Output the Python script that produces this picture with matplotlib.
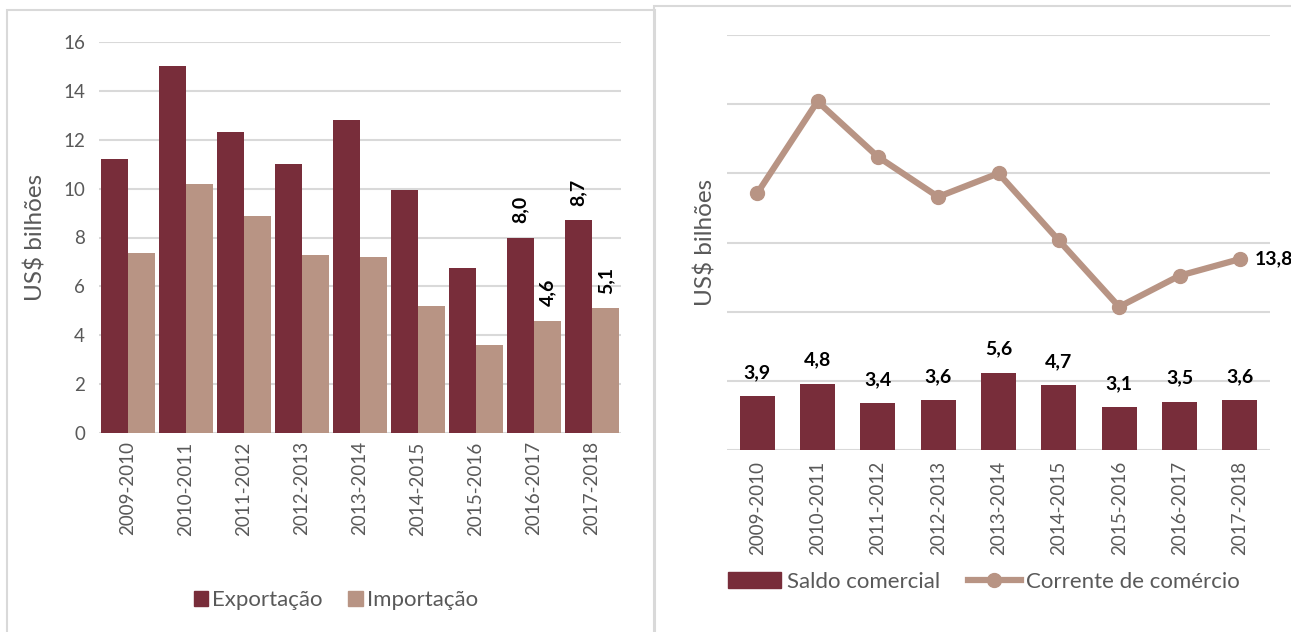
import matplotlib
matplotlib.use("Agg")
import matplotlib.pyplot as plt
import numpy as np
from matplotlib.patches import Rectangle
from matplotlib.lines import Line2D
from matplotlib.patches import Patch

plt.rcParams['font.family'] = ['Lato', 'DejaVu Sans']

categories = ["2009-2010", "2010-2011", "2011-2012", "2012-2013", "2013-2014",
              "2014-2015", "2015-2016", "2016-2017", "2017-2018"]
exportacao = [11.2, 15.0, 12.3, 11.0, 12.8, 9.95, 6.75, 8.0, 8.7]
importacao = [7.35, 10.2, 8.9, 7.3, 7.2, 5.2, 3.6, 4.6, 5.1]
saldo = [3.9, 4.8, 3.4, 3.6, 5.6, 4.7, 3.1, 3.5, 3.6]
corrente = [18.55, 25.2, 21.2, 18.3, 20.0, 15.15, 10.35, 12.6, 13.8]

C_EXP = "#782D3A"
C_IMP = "#B89484"
GRID = "#D9D9D9"
TXT = "#595959"

W, H = 1291, 632
fig = plt.figure(figsize=(W / 100, H / 100), dpi=100)

def ax_px(x0, y0, x1, y1):
    return fig.add_axes([x0 / W, 1 - y1 / H, (x1 - x0) / W, (y1 - y0) / H])

# panel borders
fig.patches.append(Rectangle((7 / W, -0.05), (655 - 7) / W, 1 - 10 / H + 0.05,
                             transform=fig.transFigure, fill=False, ec="#D9D9D9", lw=1.5))
fig.patches.append(Rectangle((654 / W, -0.05), 0.5, 1 - 6 / H + 0.05,
                             transform=fig.transFigure, fill=False, ec="#D9D9D9", lw=1.5))

def fmt(v):
    return f"{v:.1f}".replace(".", ",")

# ---------- Left chart ----------
ax1 = ax_px(99, 42, 621, 433)
x = np.arange(len(categories))
bw = 0.47
ax1.bar(x - bw / 2, exportacao, bw, color=C_EXP, zorder=3)
ax1.bar(x + bw / 2, importacao, bw, color=C_IMP, zorder=3)
ax1.set_xlim(-0.5, len(categories) - 0.5)
ax1.set_ylim(0, 16)
ax1.set_yticks(np.arange(0, 17, 2))
ax1.yaxis.grid(True, color=GRID, lw=1.5, zorder=0)
ax1.set_axisbelow(True)
for s in ax1.spines.values():
    s.set_visible(False)
ax1.tick_params(length=0, labelsize=13.5, colors=TXT, pad=10)
ax1.tick_params(axis='x', pad=6)
ax1.set_xticks(x)
ax1.set_xticklabels(categories, rotation=90)
ax1.set_ylabel("US$ bilhões", fontsize=17.5, color=TXT, labelpad=12)
for i in (7, 8):
    ax1.text(x[i] - bw / 2, exportacao[i] + 0.6, fmt(exportacao[i]),
             rotation=90, ha="center", va="bottom", fontsize=14, fontweight="bold", color="black")
    ax1.text(x[i] + bw / 2, importacao[i] + 0.6, fmt(importacao[i]),
             rotation=90, ha="center", va="bottom", fontsize=14, fontweight="bold", color="black")
fig.legend(handles=[Patch(color=C_EXP, label="Exportação"), Patch(color=C_IMP, label="Importação")],
           loc="center", bbox_to_anchor=(336 / W, 1 - 600 / H), ncol=2, frameon=False,
           fontsize=16, labelcolor=TXT, handlelength=0.65, handleheight=0.65,
           handletextpad=0.2, columnspacing=1.15)

# ---------- Right chart ----------
ax2 = ax_px(727, 35, 1270, 450)
x2 = np.arange(len(categories))
ax2.bar(x2, saldo, 0.58, color=C_EXP, zorder=3)
ax2.plot(x2, corrente, color=C_IMP, lw=4.5, marker="o", markersize=10, zorder=4,
         solid_capstyle="round")
ax2.set_xlim(-0.5, len(categories) - 0.5)
ax2.set_ylim(0, 30)
ax2.set_yticks(np.arange(0, 31, 5))
ax2.set_yticklabels([])
ax2.yaxis.grid(True, color=GRID, lw=1.5, zorder=0)
ax2.set_axisbelow(True)
for s in ax2.spines.values():
    s.set_visible(False)
ax2.tick_params(length=0, labelsize=13.5, colors=TXT)
ax2.tick_params(axis='x', pad=8)
ax2.set_xticks(x2)
ax2.set_xticklabels(categories, rotation=90)
ax2.set_ylabel("US$ bilhões", fontsize=17.5, color=TXT, labelpad=4)
for i, v in enumerate(saldo):
    ax2.text(x2[i], v + 1.1, fmt(v), ha="center", va="bottom",
             fontsize=14, fontweight="bold", color="black")
ax2.text(x2[-1] + 0.25, corrente[-1], fmt(corrente[-1]), ha="left",
         va="center", fontsize=14, fontweight="bold", color="black", clip_on=False)
fig.legend(handles=[Patch(color=C_EXP, label="Saldo comercial"),
                    Line2D([], [], color=C_IMP, lw=4.5, marker="o", markersize=10,
                           label="Corrente de comércio")],
           loc="center", bbox_to_anchor=(984 / W, 1 - 582 / H), ncol=2, frameon=False,
           fontsize=16, labelcolor=TXT, handlelength=2.4, handleheight=0.75,
           handletextpad=0.25, columnspacing=1.25)

fig.savefig("out.png", dpi=100)
